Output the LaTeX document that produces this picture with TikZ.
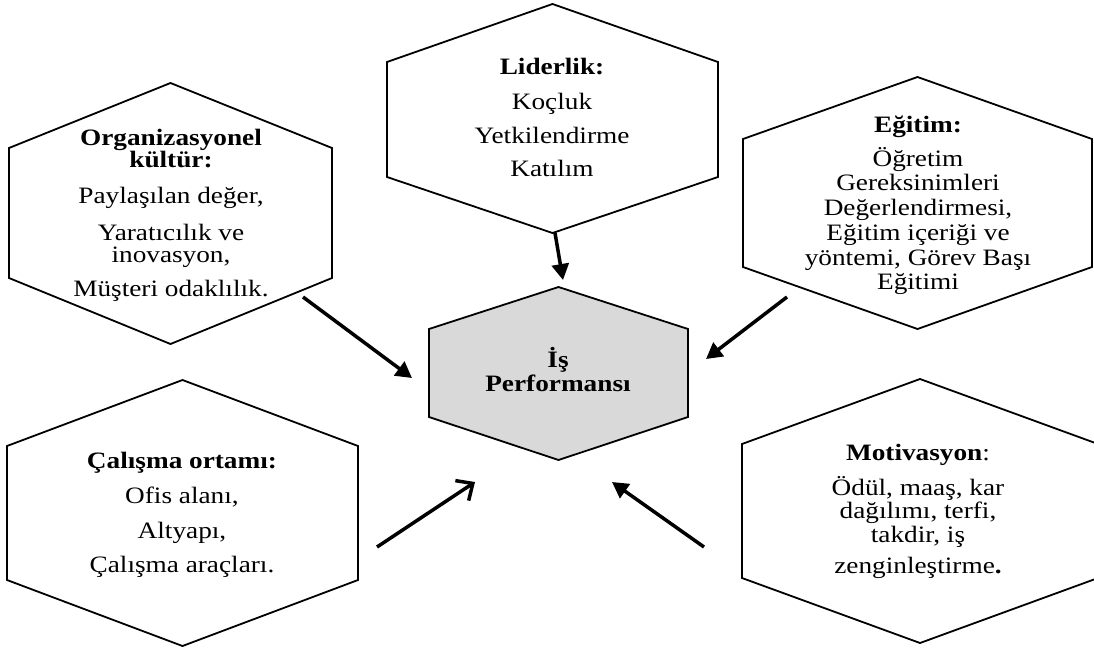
\documentclass[tikz,border=0pt]{standalone}
\usepackage{fontspec}
\setmainfont{Liberation Serif}[FakeStretch=1.16]
\usetikzlibrary{arrows.meta}
\tikzset{
  hexline/.style={draw=black, line width=1.8pt, line join=miter},
  lbl/.style={anchor=base, inner sep=0pt, font=\fontsize{23.5}{25}\selectfont},
  hd/.style={anchor=base, inner sep=0pt, font=\fontsize{23.5}{25}\selectfont\bfseries},
  flow/.style={line width=3.5pt, -{Triangle[length=16pt,width=17pt]}},
  openflow/.style={line width=3.5pt, -{Straight Barb[length=13pt,width=24pt]}}
}
\newcommand\myhex[7][]{%
  \draw[hexline,#1] (#2,#3) -- ({#2+#5},#6) -- ({#2+#5},#7) -- (#2,#4)
    -- ({#2-#5},#7) -- ({#2-#5},#6) -- cycle;}
\begin{document}
\begin{tikzpicture}[x=1pt,y=-1pt]
\useasboundingbox (0,0) rectangle (1094,648);
\begin{scope}
\clip (0,0) rectangle (1094,648);
% hexagons: cx, top, bottom, half width, upper shoulder y, lower shoulder y
\myhex{170.5}{83}{344}{161.5}{148}{278}
\myhex{552.5}{4}{233}{165.5}{62}{177}
\myhex{917.5}{77}{329}{174.5}{139}{267}
\myhex{182.5}{380}{646}{175.5}{446}{580}
\myhex{920}{379}{643}{178}{444}{578}
\myhex[fill={rgb,255:red,217;green,217;blue,217}]{558.5}{287}{460}{129.5}{329}{417}
\end{scope}

% Organizasyonel kultur
\node[hd]  (org1) at (171,145) {Organizasyonel};
\node[hd]  (org2) at (171,167) {kültür:};
\node[lbl] (org3) at (171,203) {Paylaşılan değer,};
\node[lbl] (org4) at (171,240) {Yaratıcılık ve};
\node[lbl] (org5) at (171,262) {inovasyon,};
\node[lbl] (org6) at (171,296) {Müşteri odaklılık.};

% Liderlik
\node[hd]  (lid1) at (552,74)  {Liderlik:};
\node[lbl] (lid2) at (552,109) {Koçluk};
\node[lbl] (lid3) at (552,143) {Yetkilendirme};
\node[lbl] (lid4) at (552,176) {Katılım};

% Egitim
\node[hd]  (egi1) at (918,132) {Eğitim:};
\node[lbl] (egi2) at (918,166) {Öğretim};
\node[lbl] (egi3) at (918,190) {Gereksinimleri};
\node[lbl] (egi4) at (918,215) {Değerlendirmesi,};
\node[lbl] (egi5) at (918,240) {Eğitim içeriği ve};
\node[lbl] (egi6) at (918,265) {yöntemi, Görev Başı};
\node[lbl] (egi7) at (918,289) {Eğitimi};

% Calisma ortami
\node[hd]  (cal1) at (182,468) {Çalışma ortamı:};
\node[lbl] (cal2) at (182,503) {Ofis alanı,};
\node[lbl] (cal3) at (182,538) {Altyapı,};
\node[lbl] (cal4) at (182,572) {Çalışma araçları.};

% Motivasyon
\node[lbl] (mot1) at (918,460) {\textbf{Motivasyon}:};
\node[lbl] (mot2) at (918,495) {Ödül, maaş, kar};
\node[lbl] (mot3) at (918,518) {dağılımı, terfi,};
\node[lbl] (mot4) at (918,542) {takdir, iş};
\node[lbl] (mot5) at (918,573) {zenginleştirme\textbf{.}};

% center
\node[hd] (perf1) at (558,367) {İş};
\node[hd] (perf2) at (558,391) {Performansı};

% arrow end points
\coordinate (lidS)  at (555,233);
\coordinate (lidE)  at (563,280);
\coordinate (orgS)  at (303,297);
\coordinate (orgE)  at (412,378);
\coordinate (egiS)  at (787,297);
\coordinate (egiE)  at (706,359);
\coordinate (calS)  at (377,547);
\coordinate (calE)  at (475,482);
\coordinate (motS)  at (704,547);
\coordinate (motE)  at (612,482);

\draw[flow] (lidS) -- (lidE);
\draw[flow] (orgS) -- (orgE);
\draw[flow] (egiS) -- (egiE);
\draw[openflow] (calS) -- (calE);
\draw[flow] (motS) -- (motE);
\end{tikzpicture}
\end{document}
